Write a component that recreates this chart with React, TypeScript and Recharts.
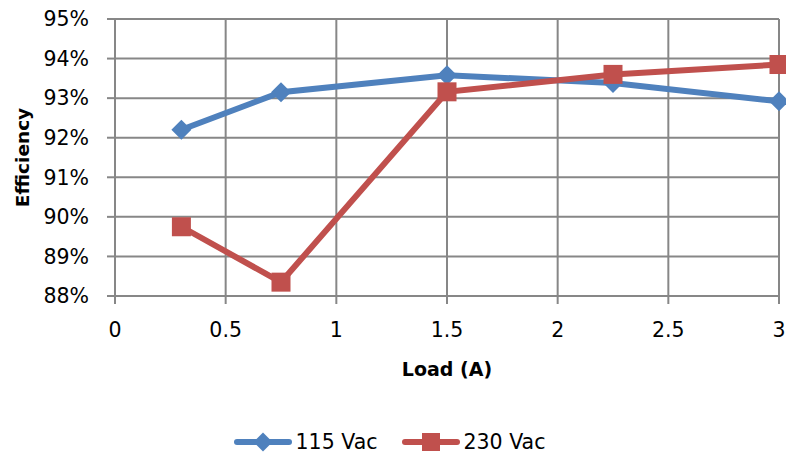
import React from 'react';
import { LineChart, Line, XAxis, YAxis, CartesianGrid, Legend } from 'recharts';

const loads = [0.3, 0.75, 1.5, 2.25, 3];
const eff115 = [92.2, 93.15, 93.58, 93.38, 92.92];
const eff230 = [89.75, 88.35, 93.16, 93.6, 93.85];
const xTicks = [0, 0.5, 1, 1.5, 2, 2.5, 3];
const yTicks = [88, 89, 90, 91, 92, 93, 94, 95];

const BLUE = '#4F81BD';
const RED = '#C0504D';
const GRID = '#878787';
const FONT = '"DejaVu Sans", sans-serif';

const data = loads.map((load, i) => ({ load, v115: eff115[i], v230: eff230[i] }));

const Diamond = (props: any) => {
  const { cx, cy } = props;
  if (cx == null || cy == null) return null;
  const r = 10;
  return <polygon points={`${cx},${cy - r} ${cx + r},${cy} ${cx},${cy + r} ${cx - r},${cy}`} fill={BLUE} />;
};

const Square = (props: any) => {
  const { cx, cy } = props;
  if (cx == null || cy == null) return null;
  return <rect x={cx - 9.5} y={cy - 9.5} width={19} height={19} fill={RED} />;
};

const YTitle = ({ viewBox }: any) => {
  const cy = viewBox.y + viewBox.height / 2;
  return (
    <text x={22} y={cy} transform={`rotate(-90, 22, ${cy})`} textAnchor="middle" dominantBaseline="central"
      fontFamily={FONT} fontWeight="bold" fontSize={18.5} fill="#000">Efficiency</text>
  );
};

const XTitle = ({ viewBox }: any) => (
  <text x={viewBox.x + viewBox.width / 2} y={viewBox.y + 73} textAnchor="middle" dominantBaseline="central"
    fontFamily={FONT} fontWeight="bold" fontSize={19} fill="#000">Load (A)</text>
);

const LegendContent = () => {
  const items = [
    { name: '115 Vac', color: BLUE, shape: 'diamond' },
    { name: '230 Vac', color: RED, shape: 'square' },
  ];
  return (
    <div style={{ display: 'flex', justifyContent: 'center', gap: 24, paddingTop: 12, fontFamily: FONT, fontSize: 20.5, color: '#000' }}>
      {items.map(it => (
        <div key={it.name} style={{ display: 'flex', alignItems: 'center' }}>
          <svg width={58} height={22} style={{ marginRight: 4 }}>
            <line x1={3} y1={11} x2={55} y2={11} stroke={it.color} strokeWidth={6} strokeLinecap="round" />
            {it.shape === 'diamond'
              ? <polygon points="29,1.5 38.5,11 29,20.5 19.5,11" fill={it.color} />
              : <rect x={20} y={2} width={18} height={18} fill={it.color} />}
          </svg>
          <span>{it.name}</span>
        </div>
      ))}
    </div>
  );
};

export default function App() {
  return (
    <div style={{ position: 'absolute', left: 0, top: 0, background: '#fff' }}>
      <LineChart width={786} height={458} data={data} margin={{ top: 19, right: 7, left: 0, bottom: 0 }}
        style={{ fontFamily: FONT }}>
        <CartesianGrid stroke={GRID} strokeWidth={2} />
        <XAxis dataKey="load" type="number" domain={[0, 3]} ticks={xTicks} height={122}
          stroke={GRID} strokeWidth={2} tickSize={8} tickMargin={18}
          tick={{ fill: '#000', fontSize: 20.5, fontFamily: FONT }}
          label={<XTitle />} />
        <YAxis type="number" domain={[88, 95]} ticks={yTicks} width={115}
          stroke={GRID} strokeWidth={2} tickSize={8} tickMargin={18}
          tickFormatter={(v: number) => `${v}%`}
          tick={{ fill: '#000', fontSize: 20.5, fontFamily: FONT }}
          label={<YTitle />} />
        <Legend verticalAlign="bottom" height={40} content={<LegendContent />} />
        <Line dataKey="v115" stroke={BLUE} strokeWidth={6} dot={<Diamond />} activeDot={false} isAnimationActive={false} />
        <Line dataKey="v230" stroke={RED} strokeWidth={6} dot={<Square />} activeDot={false} isAnimationActive={false} />
      </LineChart>
    </div>
  );
}
